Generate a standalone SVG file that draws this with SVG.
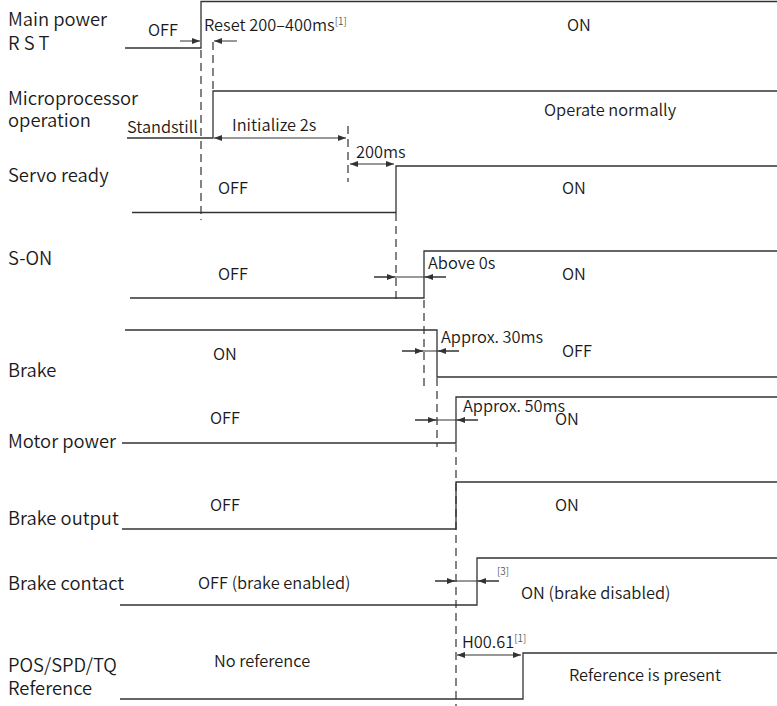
<svg xmlns="http://www.w3.org/2000/svg" width="777" height="706" viewBox="0 0 777 706">
  <style>
    text { font-family: "Noto Sans CJK SC", "Noto Sans", sans-serif; font-weight: 350; fill: #1a1a1a; }
    .lbl { font-size: 18.4px; }
    .st { font-size: 16.4px; }
    .sup { font-size: 10px; fill: #555; }
    .wave { fill: none; stroke: #333; stroke-width: 1.3; }
    .dash { fill: none; stroke: #333; stroke-width: 1.2; stroke-dasharray: 8 5; }
    .dim { fill: none; stroke: #333; stroke-width: 1; }
    .a1 { marker-end: url(#ah); }
    .a2 { marker-start: url(#ah); marker-end: url(#ah); }
  </style>
  <defs>
    <marker id="ah" viewBox="0 0 8 6" refX="8" refY="3" markerWidth="8" markerHeight="6" markerUnits="userSpaceOnUse" orient="auto-start-reverse">
      <path d="M0,0 L8,3 L0,6 z" fill="#333"/>
    </marker>
  </defs>

  <rect width="777" height="706" fill="#fff"/>

  <!-- Main power R S T -->
  <g id="main-power">
    <text class="lbl" x="8" y="26">Main power</text>
    <text class="lbl" x="8" y="50">R S T</text>
    <path class="wave" d="M125,48 H201 V1.5 H777"/>
    <text class="st" x="148" y="36">OFF</text>
    <text class="st" x="204" y="31">Reset 200–400ms<tspan class="sup" dy="-6">[1]</tspan></text>
    <text class="st" x="567" y="31">ON</text>
  </g>

  <!-- Microprocessor operation -->
  <g id="microprocessor">
    <text class="lbl" x="8" y="105">Microprocessor</text>
    <text class="lbl" x="8" y="127">operation</text>
    <path class="wave" d="M127,138 H213 V91 H777"/>
    <text class="st" x="127" y="133">Standstill</text>
    <text class="st" x="232" y="131">Initialize 2s</text>
    <text class="st" x="544" y="116">Operate normally</text>
  </g>

  <!-- Servo ready -->
  <g id="servo-ready">
    <text class="lbl" x="8" y="182">Servo ready</text>
    <path class="wave" d="M132,212.5 H396 V166 H777"/>
    <text class="st" x="356" y="158">200ms</text>
    <text class="st" x="218" y="194">OFF</text>
    <text class="st" x="562" y="194">ON</text>
  </g>

  <!-- S-ON -->
  <g id="s-on">
    <text class="lbl" x="8" y="265">S-ON</text>
    <path class="wave" d="M130,298 H424 V251 H777"/>
    <text class="st" x="218" y="280">OFF</text>
    <text class="st" x="428" y="269">Above 0s</text>
    <text class="st" x="562" y="280">ON</text>
  </g>

  <!-- Brake -->
  <g id="brake">
    <text class="lbl" x="8" y="377">Brake</text>
    <path class="wave" d="M125,330 H437 V377 H777"/>
    <text class="st" x="213" y="360">ON</text>
    <text class="st" x="441" y="343">Approx. 30ms</text>
    <text class="st" x="562" y="357">OFF</text>
  </g>

  <!-- Motor power -->
  <g id="motor-power">
    <text class="lbl" x="8" y="448">Motor power</text>
    <path class="wave" d="M122,443 H456 V397 H777"/>
    <text class="st" x="210" y="424">OFF</text>
    <text class="st" x="463" y="412">Approx. 50ms</text>
    <text class="st" x="555" y="425">ON</text>
  </g>

  <!-- Brake output -->
  <g id="brake-output">
    <text class="lbl" x="8" y="525">Brake output</text>
    <path class="wave" d="M122,529 H456 V482 H777"/>
    <text class="st" x="210" y="511">OFF</text>
    <text class="st" x="555" y="511">ON</text>
  </g>

  <!-- Brake contact -->
  <g id="brake-contact">
    <text class="lbl" x="8" y="590">Brake contact</text>
    <path class="wave" d="M120,605 H477 V558 H777"/>
    <text class="st" x="198" y="589">OFF (brake enabled)</text>
    <text class="sup" x="497" y="575">[3]</text>
    <text class="st" x="521" y="599">ON (brake disabled)</text>
  </g>

  <!-- POS/SPD/TQ Reference -->
  <g id="reference">
    <text class="lbl" x="8" y="672">POS/SPD/TQ</text>
    <text class="lbl" x="8" y="695">Reference</text>
    <path class="wave" d="M120,699 H523 V653 H777"/>
    <text class="st" x="214" y="667">No reference</text>
    <text class="st" x="462" y="648">H00.61<tspan class="sup" dy="-6">[1]</tspan></text>
    <text class="st" x="569" y="681">Reference is present</text>
  </g>

  <!-- Timing guides and dimension arrows -->
  <g id="connectors">
    <line class="dash" x1="201" y1="50" x2="201" y2="220"/>
    <line class="dash" x1="213" y1="42" x2="213" y2="89"/>
    <line class="dash" x1="348" y1="126" x2="348" y2="182"/>
    <line class="dash" x1="396" y1="213" x2="396" y2="302"/>
    <line class="dash" x1="424" y1="300" x2="424" y2="388"/>
    <line class="dash" x1="437" y1="378" x2="437" y2="447"/>
    <line class="dash" x1="456" y1="444" x2="456" y2="706"/>

    <line class="dim a1" x1="180" y1="41" x2="200" y2="41"/>
    <line class="dim a1" x1="237" y1="41" x2="214" y2="41"/>

    <line class="dim a2" x1="214" y1="138" x2="346" y2="138"/>
    <line class="dim a2" x1="350" y1="164" x2="394" y2="164"/>

    <line class="dim" x1="374" y1="277" x2="446" y2="277"/>
    <line class="dim a1" x1="374" y1="277" x2="395" y2="277"/>
    <line class="dim a1" x1="446" y1="277" x2="425" y2="277"/>

    <line class="dim" x1="402" y1="351" x2="459" y2="351"/>
    <line class="dim a1" x1="402" y1="351" x2="423" y2="351"/>
    <line class="dim a1" x1="459" y1="351" x2="438" y2="351"/>

    <line class="dim" x1="415" y1="420" x2="478" y2="420"/>
    <line class="dim a1" x1="415" y1="420" x2="436" y2="420"/>
    <line class="dim a1" x1="478" y1="420" x2="457" y2="420"/>

    <line class="dim" x1="435" y1="581" x2="499" y2="581"/>
    <line class="dim a1" x1="435" y1="581" x2="455" y2="581"/>
    <line class="dim a1" x1="499" y1="581" x2="478" y2="581"/>

    <line class="dim a2" x1="457" y1="655" x2="521" y2="655"/>
  </g>
</svg>
